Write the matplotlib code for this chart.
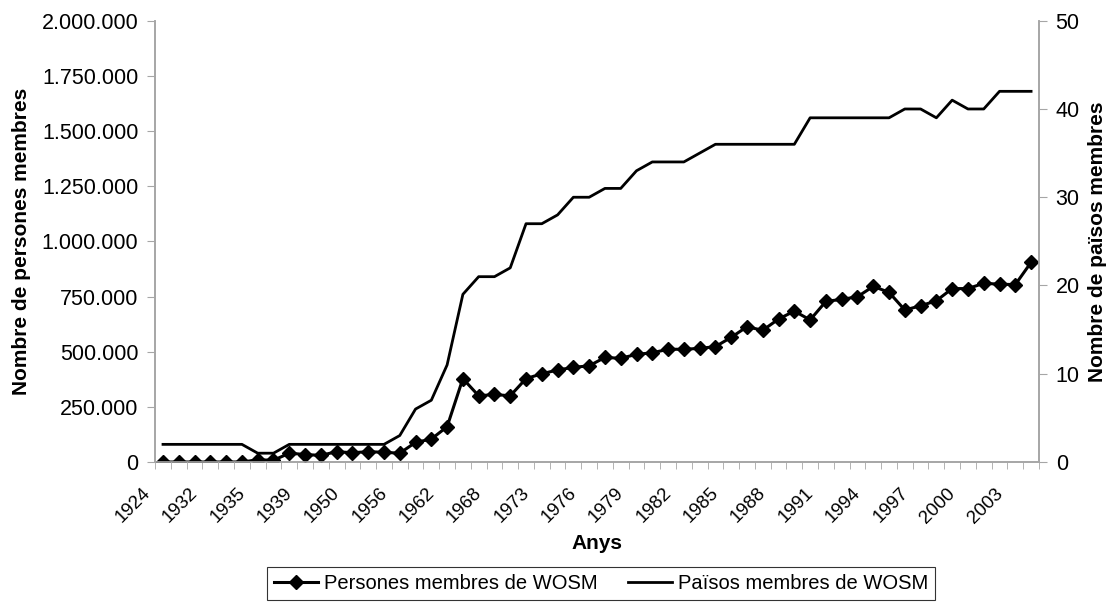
"""
WOSM membership: persons (left axis) and member countries (right axis).
"""
import numpy as np
import matplotlib
matplotlib.use('Agg')
import matplotlib.pyplot as plt
import matplotlib.transforms as mtransforms
from matplotlib.ticker import FuncFormatter, FixedLocator

plt.rcParams['font.family'] = ['Liberation Sans', 'DejaVu Sans']

# Labels shown every third category on the x axis
year_labels = ['1924', '1932', '1935', '1939', '1950', '1956', '1962', '1968',
               '1973', '1976', '1979', '1982', '1985', '1988', '1991', '1994',
               '1997', '2000', '2003']

# Persons members of WOSM (one value per category)
persons = [0, 0, 0, 0, 0, 0, 10000, 8000, 40000, 34000,
           30000, 47000, 42000, 47000, 44000, 40000, 89000, 104000, 160000, 378000,
           300000, 306000, 300000, 378000, 400000, 417000, 429000, 436000, 474000, 470000,
           488000, 495000, 511000, 511000, 515000, 523000, 565000, 613000, 597000, 648000,
           684000, 644000, 728000, 737000, 749000, 796000, 769000, 689000, 708000, 731000,
           786000, 786000, 810000, 806000, 804000, 905000]

# Member countries of WOSM
countries = [2, 2, 2, 2, 2, 2, 1, 1, 2, 2,
             2, 2, 2, 2, 2, 3, 6, 7, 11, 19,
             21, 21, 22, 27, 27, 28, 30, 30, 31, 31,
             33, 34, 34, 34, 35, 36, 36, 36, 36, 36,
             36, 39, 39, 39, 39, 39, 39, 40, 40, 39,
             41, 40, 40, 42, 42, 42]

n = len(persons)
xpos = np.arange(n) + 0.5
axis_grey = '#a6a6a6'

fig = plt.figure(figsize=(11.08, 6.06), dpi=100)
ax = fig.add_axes([0.140, 0.2376, 0.7977, 0.7282])
ax2 = ax.twinx()

l1, = ax.plot(xpos, persons, color='black', linewidth=2.2, marker='D',
              markersize=7, label='Persones membres de WOSM', zorder=3)
l2, = ax2.plot(xpos, countries, color='black', linewidth=2.0,
               label='Països membres de WOSM', zorder=2)

ax.set_xlim(0, n)
ax.set_ylim(0, 2000000)
ax2.set_ylim(0, 50)
ax.set_yticks(np.arange(0, 2000001, 250000))
ax.yaxis.set_major_formatter(FuncFormatter(lambda v, p: f'{v:,.0f}'.replace(',', '.')))
ax2.set_yticks(np.arange(0, 51, 10))

# category boundaries as minor ticks, labels at every third category centre
ax.xaxis.set_minor_locator(FixedLocator(np.arange(0, n + 1)))
ax.set_xticks(xpos[::3])
ax.set_xticklabels(year_labels, rotation=45, ha='right', va='baseline',
                   rotation_mode='anchor', fontsize=13.5)
ax.tick_params(axis='x', which='major', length=0, pad=23)
ax.tick_params(axis='x', which='minor', length=5, color=axis_grey, direction='out')

# nudge rotated labels left (after tick_params, which resets transforms)
offset = mtransforms.ScaledTranslation(-0.12, 0, fig.dpi_scale_trans)
for lab in ax.get_xticklabels():
    lab.set_transform(lab.get_transform() + offset)

ax.tick_params(axis='y', length=6, color=axis_grey, labelsize=15.5, pad=6)
ax2.tick_params(axis='y', length=6, color=axis_grey, labelsize=15.5, pad=6)

for a in (ax, ax2):
    a.spines['top'].set_visible(False)
    for s in ('left', 'right', 'bottom'):
        a.spines[s].set_color(axis_grey)
        a.spines[s].set_linewidth(1.2)

ax.set_ylabel('Nombre de persones membres', fontsize=15, fontweight='bold', labelpad=8)
ax2.set_ylabel('Nombre de països membres', fontsize=15, fontweight='bold', labelpad=6)
ax.set_xlabel('Anys', fontsize=15, fontweight='bold', va='top')
ax.xaxis.set_label_coords(0.5, -0.163)

leg = fig.legend(handles=[l1, l2], loc='lower center', bbox_to_anchor=(0.5424, 0.01),
                 ncol=2, fontsize=14.5, frameon=True, fancybox=False,
                 edgecolor='black', handlelength=2.2, columnspacing=1.5,
                 handletextpad=0.3, borderpad=0.35, borderaxespad=0)
leg.get_frame().set_linewidth(0.8)

fig.savefig('out.png', dpi=100)
